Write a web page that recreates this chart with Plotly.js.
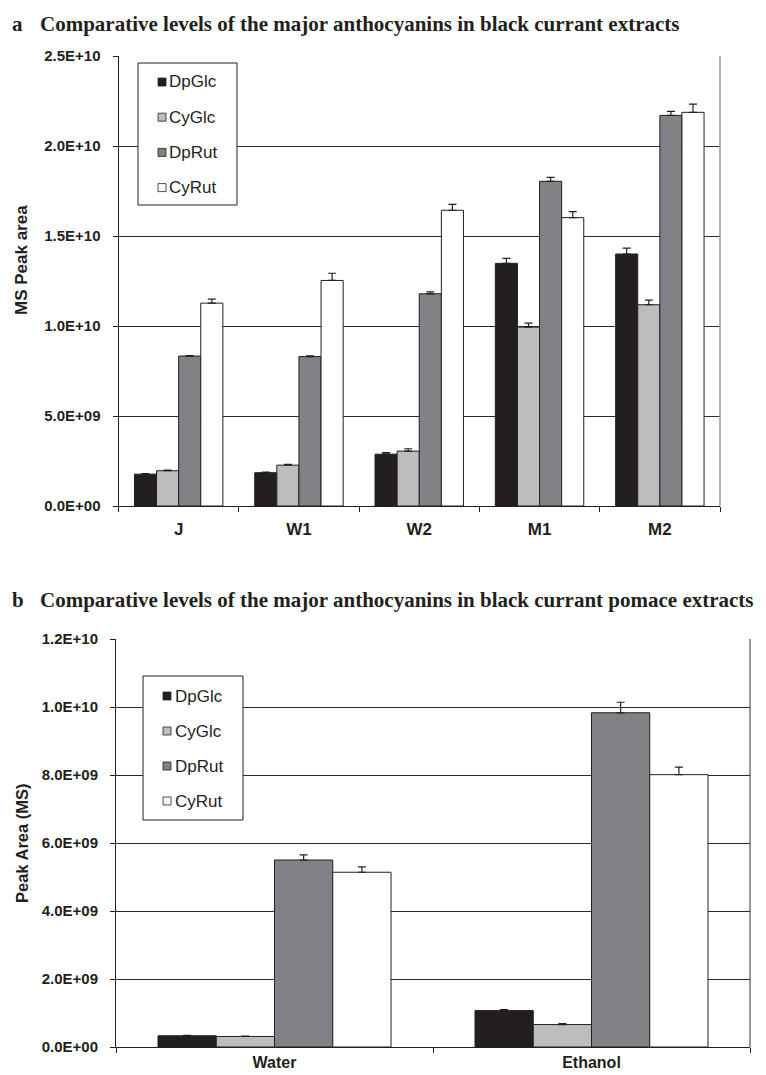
<!DOCTYPE html>
<html>
<head>
<meta charset="utf-8">
<script src="https://cdn.plot.ly/plotly-3.0.1.min.js"></script>
<style>
  html, body { margin: 0; padding: 0; background: #ffffff; }
  #chart { width: 766px; height: 1075px; }
</style>
</head>
<body>
<div id="chart"></div>
<script>
// Anthocyanin series shared by both panels
const seriesNames = ['DpGlc', 'CyGlc', 'DpRut', 'CyRut'];
const seriesColors = ['#231f20', '#bcbdbf', '#808285', '#ffffff'];

// Panel a: black currant extracts (MS peak area)
const categoriesA = ['J', 'W1', 'W2', 'M1', 'M2'];
const dpGlcA = [1.77e9, 1.85e9, 2.88e9, 1.348e10, 1.40e10];
const cyGlcA = [1.96e9, 2.27e9, 3.05e9, 9.94e9, 1.118e10];
const dpRutA = [8.33e9, 8.30e9, 1.179e10, 1.804e10, 2.17e10];
const cyRutA = [1.127e10, 1.253e10, 1.643e10, 1.602e10, 2.187e10];
const dpGlcErrA = [0.03e9, 0.04e9, 0.09e9, 0.28e9, 0.33e9];
const cyGlcErrA = [0.03e9, 0.04e9, 0.13e9, 0.22e9, 0.26e9];
const dpRutErrA = [0.02e9, 0.04e9, 0.11e9, 0.22e9, 0.22e9];
const cyRutErrA = [0.22e9, 0.40e9, 0.33e9, 0.33e9, 0.46e9];
const yTickValsA = [0, 5e9, 1e10, 1.5e10, 2e10, 2.5e10];
const yTickTextA = ['0.0E+00', '5.0E+09', '1.0E+10', '1.5E+10', '2.0E+10', '2.5E+10'];

// Panel b: black currant pomace extracts
const categoriesB = ['Water', 'Ethanol'];
const dpGlcB = [0.33e9, 1.07e9];
const cyGlcB = [0.31e9, 0.66e9];
const dpRutB = [5.50e9, 9.83e9];
const cyRutB = [5.14e9, 8.01e9];
const dpGlcErrB = [0.01e9, 0.03e9];
const cyGlcErrB = [0.01e9, 0.03e9];
const dpRutErrB = [0.15e9, 0.31e9];
const cyRutErrB = [0.16e9, 0.22e9];
const yTickValsB = [0, 2e9, 4e9, 6e9, 8e9, 1e10, 1.2e10];
const yTickTextB = ['0.0E+00', '2.0E+09', '4.0E+09', '6.0E+09', '8.0E+09', '1.0E+10', '1.2E+10'];

const titleA = 'Comparative levels of the major anthocyanins in black currant extracts';
const titleB = 'Comparative levels of the major anthocyanins in black currant pomace extracts';
const yTitleA = 'MS Peak area';
const yTitleB = 'Peak Area (MS)';

// ---- layout helpers (pixel positions on the 766 x 1075 page) ----
const W = 766, H = 1075;
const px = v => v / W;
const py = v => 1 - v / H;
const INK = '#231f20';
const SANS = 'Liberation Sans, Arial, sans-serif';
const SERIF = 'Liberation Serif, Times New Roman, serif';

function barTraces(cats, values, errors, xa, ya) {
  return values.map((vals, i) => ({
    type: 'bar',
    name: seriesNames[i],
    x: cats,
    y: vals,
    xaxis: xa,
    yaxis: ya,
    showlegend: false,
    marker: { color: seriesColors[i], line: { color: INK, width: 1 } },
    error_y: {
      type: 'data',
      symmetric: false,
      array: errors[i],
      arrayminus: errors[i].map(() => 0),
      color: INK,
      thickness: 1.2,
      width: 4
    }
  }));
}

const traces = [
  ...barTraces(categoriesA, [dpGlcA, cyGlcA, dpRutA, cyRutA],
               [dpGlcErrA, cyGlcErrA, dpRutErrA, cyRutErrA], 'x', 'y'),
  ...barTraces(categoriesB, [dpGlcB, cyGlcB, dpRutB, cyRutB],
               [dpGlcErrB, cyGlcErrB, dpRutErrB, cyRutErrB], 'x2', 'y2')
];

function xAxis(domain, anchor, standoff, size) {
  return {
    domain: domain, anchor: anchor, type: 'category',
    showline: true, linecolor: INK, linewidth: 1,
    ticks: 'outside', tickson: 'boundaries', ticklen: 5, tickcolor: INK, tickwidth: 1,
    showgrid: false, zeroline: false, fixedrange: true,
    ticklabelstandoff: standoff,
    tickfont: { family: SANS, size: size, weight: 'bold', color: INK }
  };
}

function yAxis(domain, anchor, range, vals, text, standoff) {
  return {
    domain: domain, anchor: anchor, range: range,
    tickmode: 'array', tickvals: vals, ticktext: text,
    showline: true, linecolor: INK, linewidth: 1,
    ticks: 'outside', ticklen: 5, tickcolor: INK, tickwidth: 1,
    showgrid: true, gridcolor: '#2a2a2a', gridwidth: 1,
    zeroline: false, fixedrange: true,
    ticklabelstandoff: standoff,
    tickfont: { family: SANS, size: 15, weight: 'bold', color: INK }
  };
}

const shapes = [];
const annotations = [];

// Right-hand frame of each plot area
shapes.push({ type: 'line', xref: 'x domain', yref: 'y domain', x0: 1, x1: 1, y0: 0, y1: 1,
              line: { color: '#9a9a9a', width: 1.5 } });
shapes.push({ type: 'line', xref: 'x2 domain', yref: 'y2 domain', x0: 1, x1: 1, y0: 0, y1: 1,
              line: { color: '#333333', width: 1 } });

// Boxed key listing the four anthocyanins
function addKey(left, top, right, bottom, firstY, step, sqLeft, textLeft) {
  shapes.push({ type: 'rect', xref: 'paper', yref: 'paper',
                x0: px(left), x1: px(right), y0: py(bottom), y1: py(top),
                fillcolor: '#ffffff', line: { color: INK, width: 1 } });
  seriesNames.forEach((name, i) => {
    const cy = firstY + i * step;
    shapes.push({ type: 'rect', xref: 'paper', yref: 'paper',
                  x0: px(sqLeft), x1: px(sqLeft + 8), y0: py(cy + 4), y1: py(cy - 4),
                  fillcolor: seriesColors[i], line: { color: INK, width: 0.8 } });
    annotations.push({ xref: 'paper', yref: 'paper', x: px(textLeft), y: py(cy),
                       xanchor: 'left', yanchor: 'middle', showarrow: false, text: name,
                       font: { family: SANS, size: 17, color: INK } });
  });
}
addKey(138, 63, 237, 205, 82, 35.2, 158, 167);
addKey(143, 676, 243, 820, 696, 35, 163, 173);

// Panel letters and headings
function heading(letter, text, yc) {
  annotations.push({ xref: 'paper', yref: 'paper', x: px(10), y: py(yc), xanchor: 'left', yanchor: 'middle',
                     showarrow: false, text: letter,
                     font: { family: SERIF, size: 21, weight: 'bold', color: INK } });
  annotations.push({ xref: 'paper', yref: 'paper', x: px(38), y: py(yc), xanchor: 'left', yanchor: 'middle',
                     showarrow: false, text: text,
                     font: { family: SERIF, size: 21, weight: 'bold', color: INK } });
}
heading('a', titleA, 24);
heading('b', titleB, 600);

// Vertical value-axis titles
annotations.push({ xref: 'paper', yref: 'paper', x: px(22), y: py(260), xanchor: 'center', yanchor: 'middle',
                   showarrow: false, textangle: -90, text: yTitleA,
                   font: { family: SANS, size: 17, weight: 'bold', color: INK } });
annotations.push({ xref: 'paper', yref: 'paper', x: px(22), y: py(843), xanchor: 'center', yanchor: 'middle',
                   showarrow: false, textangle: -90, text: yTitleB,
                   font: { family: SANS, size: 16.5, weight: 'bold', color: INK } });

const layout = {
  width: W, height: H, autosize: false,
  margin: { l: 0, r: 0, t: 0, b: 0, pad: 0 },
  paper_bgcolor: '#ffffff', plot_bgcolor: '#ffffff',
  barmode: 'group', bargap: 0.265, bargroupgap: 0,
  showlegend: false,
  xaxis: xAxis([px(118.5), px(720)], 'y', 8, 17),
  yaxis: yAxis([py(506), py(56)], 'x', [0, 2.5e10], yTickValsA, yTickTextA, 9),
  xaxis2: xAxis([px(116), px(750)], 'y2', 1, 16),
  yaxis2: yAxis([py(1047), py(639)], 'x2', [0, 1.2e10], yTickValsB, yTickTextB, 9),
  shapes: shapes,
  annotations: annotations
};

Plotly.newPlot('chart', traces, layout, { staticPlot: true, displayModeBar: false });
</script>
</body>
</html>
